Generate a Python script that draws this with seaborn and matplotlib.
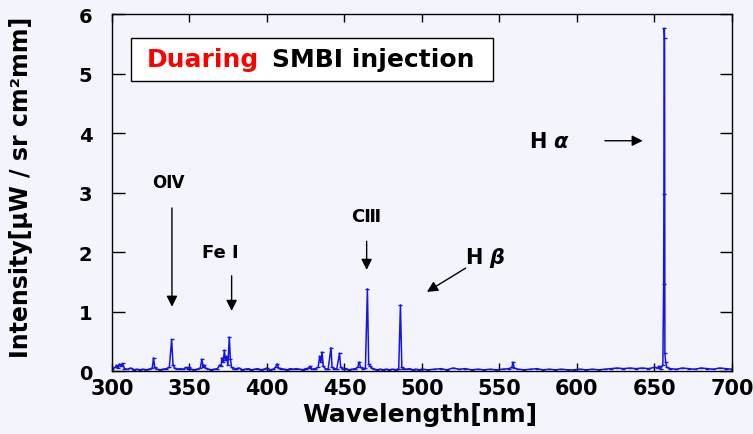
import matplotlib
matplotlib.use("Agg")
import matplotlib.pyplot as plt
import seaborn as sns
import pandas as pd
from matplotlib.patches import Rectangle

# Emission spectrum samples: wavelength [nm] and intensity
wavelength = [
    300, 302, 303, 304, 305, 306, 307, 308, 310, 312, 314, 316, 318, 320, 322, 324,
    326, 326.8, 327.6, 329, 331, 333, 335, 337, 338.5, 339.4, 340.5, 342, 344, 346,
    348, 349, 350, 351, 353, 355, 357, 358, 358.8, 359.5, 360.5, 362, 364, 366, 368,
    369.5, 370.3, 371, 371.8, 372.5, 373.2, 374, 374.8, 375.7, 376.4, 377.2, 378.5,
    380, 382, 384, 386, 388, 390, 392, 394, 396, 398, 400, 402, 404, 405.5, 406.5,
    407.5, 409, 411, 413, 415, 417, 419, 421, 423, 425, 427, 428, 429, 431, 433, 434,
    434.8, 435.5, 436.3, 438, 439.5, 441.3, 442, 443.5, 445, 446.8, 447.6, 449, 451,
    453, 455, 457, 458.5, 459.5, 460.4, 462, 463.5, 464.8, 465.6, 466.5, 467.5, 469,
    471, 473, 475, 477, 479, 481, 483, 485, 486.1, 487, 488, 490, 492, 494, 496, 498,
    500, 504, 508, 512, 516, 520, 524, 528, 532, 536, 540, 544, 548, 552, 556, 558,
    558.7, 559.5, 562, 566, 570, 574, 578, 582, 586, 590, 594, 598, 602, 606, 610,
    614, 618, 622, 626, 630, 634, 638, 642, 646, 650, 652, 653, 654, 655.4, 655.9,
    656.1, 656.3, 656.5, 656.7, 657.2, 658, 660, 664, 668, 672, 676, 680, 684, 688,
    692, 696, 700,
]
intensity = [
    0.03, 0.06, 0.10, 0.05, 0.12, 0.08, 0.13, 0.04, 0.03, 0.05, 0.02, 0.03, 0.02, 0.03, 0.02, 0.03,
    0.05, 0.22, 0.06, 0.03, 0.02, 0.03, 0.04, 0.06, 0.53, 0.10, 0.05, 0.03, 0.04, 0.03,
    0.06, 0.03, 0.07, 0.03, 0.02, 0.03, 0.05, 0.20, 0.07, 0.10, 0.05, 0.03, 0.02, 0.03, 0.04,
    0.10, 0.08, 0.22, 0.15, 0.35, 0.18, 0.25, 0.10, 0.57, 0.20, 0.06, 0.03,
    0.04, 0.05, 0.02, 0.03, 0.04, 0.02, 0.03, 0.04, 0.02, 0.03, 0.05, 0.02, 0.03, 0.06, 0.12,
    0.05, 0.04, 0.03, 0.02, 0.04, 0.03, 0.04, 0.03, 0.02, 0.04, 0.05, 0.08, 0.03, 0.04, 0.06, 0.25,
    0.15, 0.32, 0.08, 0.03, 0.04, 0.39, 0.06, 0.04, 0.03, 0.30, 0.06, 0.03, 0.04,
    0.02, 0.03, 0.04, 0.06, 0.15, 0.06, 0.03, 0.05, 1.38, 0.12, 0.08, 0.05, 0.03,
    0.02, 0.03, 0.02, 0.03, 0.02, 0.03, 0.02, 0.04, 1.11, 0.06, 0.04, 0.03, 0.04, 0.02, 0.03, 0.02,
    0.03, 0.02, 0.03, 0.04, 0.02, 0.05, 0.03, 0.04, 0.02, 0.03, 0.02, 0.03, 0.02, 0.03, 0.04, 0.06,
    0.15, 0.05, 0.03, 0.02, 0.03, 0.04, 0.02, 0.03, 0.02, 0.03, 0.02, 0.02, 0.03, 0.02, 0.03,
    0.02, 0.03, 0.04, 0.05, 0.04, 0.05, 0.04, 0.05, 0.04, 0.06, 0.05, 0.08, 0.04, 0.10, 1.46,
    2.97, 5.76, 5.60, 0.30, 0.15, 0.06, 0.04, 0.03, 0.05, 0.04, 0.03, 0.05, 0.04, 0.03,
    0.05, 0.04, 0.03,
]

# Line identifications: label, text position, arrow tail, arrow head
line_labels = ["OⅣ", "Fe Ⅰ", "CⅢ", "H $\\boldsymbol{\\alpha}$", "H $\\boldsymbol{\\beta}$"]
label_xy = [(336.1, 3.18), (369.7, 2.00), (464.3, 2.60), (582.6, 3.87), (540.6, 1.92)]
arrow_tail = [(338.7, 2.74), (377.2, 1.60), (464.3, 2.18), (618.0, 3.87), (528.2, 1.73)]
arrow_head = [(338.7, 1.08), (377.2, 1.01), (464.3, 1.70), (642.4, 3.87), (503.2, 1.33)]
label_sizes = [12, 13, 13, 15, 15]

x_ticks = [300, 350, 400, 450, 500, 550, 600, 650, 700]
y_ticks = [0, 1, 2, 3, 4, 5, 6]

bg = "#f4f4fd"
sns.set_style("ticks")
plt.rcParams["font.family"] = ["DejaVu Sans", "Noto Sans CJK JP"]
plt.rcParams["mathtext.fontset"] = "dejavusans"
for key in ["text.color", "axes.labelcolor", "xtick.color", "ytick.color",
            "xtick.labelcolor", "ytick.labelcolor"]:
    plt.rcParams[key] = "black"

fig = plt.figure(figsize=(7.53, 4.35), dpi=100, facecolor=bg)
ax = fig.add_axes([0.1487, 0.1448, 0.8234, 0.8207])
ax.set_facecolor(bg)

df = pd.DataFrame({"Wavelength": wavelength, "Intensity": intensity})
sns.lineplot(data=df, x="Wavelength", y="Intensity", sort=False, ax=ax,
             color="#1414e6", linewidth=1.1, marker="_", markersize=3,
             markeredgewidth=1.0, markeredgecolor="#1414e6")

ax.set_xlim(300, 700)
ax.set_ylim(0, 6)
ax.set_xticks(x_ticks)
ax.set_yticks(y_ticks)
ax.set_xticklabels([str(t) for t in x_ticks], fontsize=15, fontweight="bold", color="black")
ax.set_yticklabels([str(t) for t in y_ticks], fontsize=14, fontweight="bold", color="black")
ax.tick_params(axis="x", direction="in", top=True, bottom=True, length=6,
               width=1, pad=5, color="black")
ax.tick_params(axis="y", direction="in", left=True, right=True, length=9,
               width=1, pad=14, color="black")
for s in ax.spines.values():
    s.set_visible(True)
    s.set_color("black")
    s.set_linewidth(1.0)

ax.set_xlabel("Wavelength[nm]", fontsize=18, fontweight="bold", color="black")
ax.set_ylabel("Intensity[μW / sr cm²mm]", fontsize=17, fontweight="bold", color="black")
ax.xaxis.set_label_coords(0.497, -0.087)
ax.yaxis.set_label_coords(-0.128, 0.518)

# Title box
ax.add_patch(Rectangle((0.0306, 0.812), 0.584, 0.121, transform=ax.transAxes,
                       facecolor="white", edgecolor="black", linewidth=1.0, zorder=3))
ax.text(0.0565, 0.874, "Duaring", transform=ax.transAxes, color="#ff0000",
        fontsize=18, fontweight="bold", ha="left", va="center", zorder=4)
ax.text(0.2576, 0.874, "SMBI injection", transform=ax.transAxes, color="black",
        fontsize=18, fontweight="bold", ha="left", va="center", zorder=4)

# Spectral line annotations
for lab, xy, tail, head, fs in zip(line_labels, label_xy, arrow_tail, arrow_head, label_sizes):
    ax.text(xy[0], xy[1], lab, fontsize=fs, fontweight="bold", ha="center",
            va="center", color="black")
    ax.annotate("", xy=head, xytext=tail,
                arrowprops=dict(arrowstyle="-|>", color="black", lw=1.0,
                                mutation_scale=16, shrinkA=0, shrinkB=0))

fig.savefig("out.png", dpi=100, facecolor=bg)
